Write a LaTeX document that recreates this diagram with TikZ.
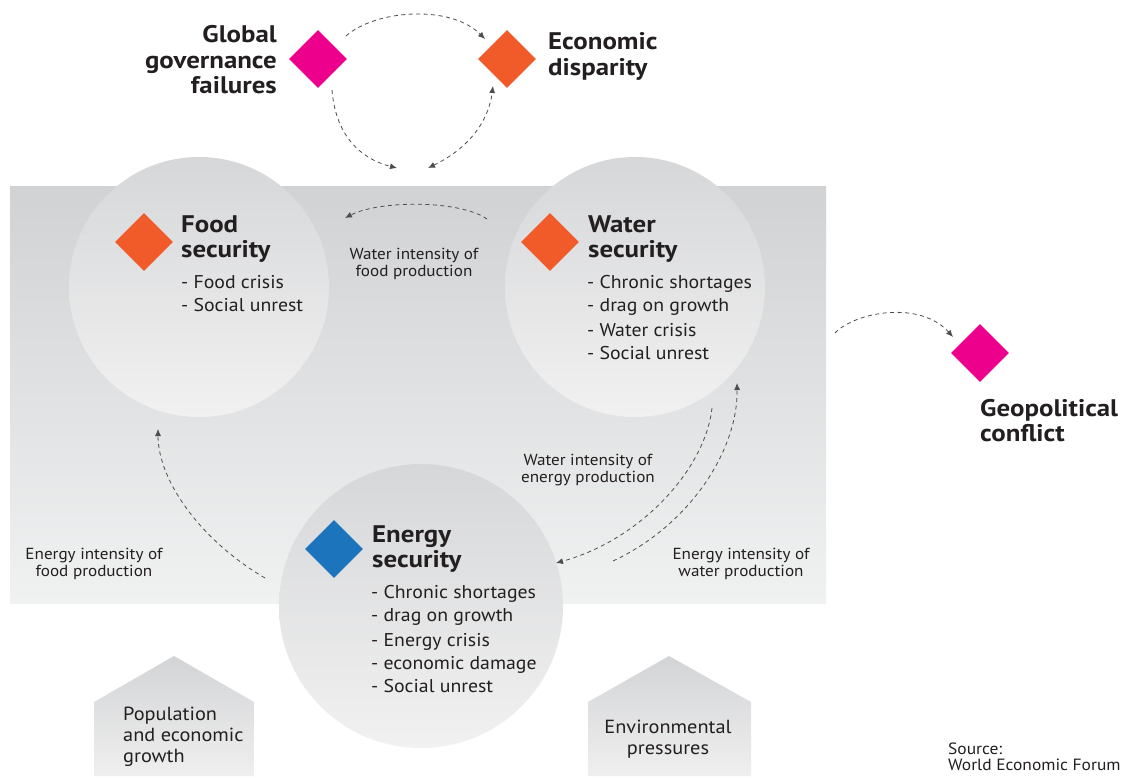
\documentclass[tikz,border=0pt]{standalone}
\usepackage{fontspec}
\setmainfont{PT Sans}[FakeStretch=1.07]
\newfontfamily\hdfam{PT Sans}[FakeStretch=1.12]
\usetikzlibrary{arrows.meta,shapes.geometric}
\definecolor{rectTop}{HTML}{D1D2D4}
\definecolor{rectBot}{HTML}{F0F1F1}
\definecolor{circTop}{HTML}{D6D7D9}
\definecolor{circBot}{HTML}{F1F1F1}
\definecolor{houseTop}{HTML}{D3D4D6}
\definecolor{houseBot}{HTML}{EFEFEF}
\definecolor{wefOrange}{HTML}{F15A29}
\definecolor{wefMagenta}{HTML}{EC008C}
\definecolor{wefBlue}{HTML}{1C75BC}
\definecolor{ink}{HTML}{231F20}
\definecolor{dashc}{HTML}{4D4D4D}
\newcommand{\stk}[2][l]{\begin{tabular}[t]{@{}#1@{}}#2\end{tabular}}
\tikzset{
  bub/.style={circle, inner sep=0pt, minimum size=#1, top color=circTop, bottom color=circBot, draw=none},
  dia/.style={diamond, inner sep=0pt, minimum size=58pt, fill=#1, draw=none},
  head/.style={inner sep=0pt, text=ink, font=\hdfam\fontsize{24}{25.5}\selectfont\bfseries},
  body/.style={inner sep=0pt, text=ink, font=\fontsize{18.5}{23}\selectfont},
  lab/.style={inner sep=0pt, text=ink, font=\fontsize{16}{17.5}\selectfont},
  house/.style={inner sep=0pt, text=ink, font=\fontsize{19}{21}\selectfont},
  conn/.style={draw=dashc, line width=0.8pt, dash pattern=on 4pt off 3.5pt,
    -{Latex[length=7pt,width=6pt]}},
  conn2/.style={conn, {Latex[length=7pt,width=6pt]}-{Latex[length=7pt,width=6pt]}},
}
\begin{document}
\begin{tikzpicture}[x=1pt,y=-1pt]
\useasboundingbox (0,0) rectangle (1121,776);
\fill[white] (0,0) rectangle (1121,776);
% background panel
\shade[top color=rectTop, bottom color=rectBot] (10,186) rectangle (826,603);
% bubbles
\node[bub=260pt] (foodc) at (199,287) {};
\node[bub=260pt] (waterc) at (635,287) {};
\node[bub=284pt] (energyc) at (421,606) {};
% houses
\shade[top color=houseTop, bottom color=houseBot] (94,776) -- (94,702) -- (174,656) -- (254,702) -- (254,776) -- cycle;
\shade[top color=houseTop, bottom color=houseBot] (588,776) -- (588,702) -- (669,656) -- (751,702) -- (751,776) -- cycle;
% diamonds
\node[dia=wefMagenta] (ggf) at (318,59) {};
\node[dia=wefOrange] (ecd) at (507,59) {};
\node[dia=wefOrange] (food) at (144,242) {};
\node[dia=wefOrange] (water) at (550,242) {};
\node[dia=wefBlue] (energy) at (334,549) {};
\node[dia=wefMagenta] (geo) at (980,353) {};
% titles
\node[head, anchor=base east] (ggft) at (277,43) {\stk[r]{Global\\governance\\failures}};
\node[head, anchor=base west] (ecdt) at (548,50) {\stk{Economic\\disparity}};
\node[head, anchor=base west] (foodt) at (181,232) {\stk{Food\\security}};
\node[head, anchor=base west] (watert) at (588,232) {\stk{Water\\security}};
\node[head, anchor=base west] (energyt) at (372,542) {\stk{Energy\\security}};
\node[head, anchor=base west] (geot) at (980,416) {\stk{Geopolitical\\conflict}};
% lists
\node[body, anchor=base west] (foodl) at (181,288) {\stk{- Food crisis\\- Social unrest}};
\node[body, anchor=base west] (waterl) at (587,288) {\stk{- Chronic shortages\\- drag on growth\\[2pt]- Water crisis\\- Social unrest}};
\node[body, anchor=base west] (energyl) at (371,598) {\stk{- Chronic shortages\\- drag on growth\\[2pt]- Energy crisis\\- economic damage\\- Social unrest}};
% connector labels
\node[lab, anchor=base] (l1) at (414,259) {\stk[c]{Water intensity of\\food production}};
\node[lab, anchor=base] (l2) at (588,465) {\stk[c]{Water intensity of\\energy production}};
\node[lab, anchor=base] (l3) at (94,559) {\stk[c]{Energy intensity of\\food production}};
\node[lab, anchor=base] (l4) at (741,559) {\stk[c]{Energy intensity of\\water production}};
% house texts
\node[house, anchor=base west] (pop) at (123,720) {\stk{Population\\and economic\\growth}};
\node[house, anchor=base] (env) at (668,733) {\stk[c]{Environmental\\pressures}};
\node[inner sep=0pt, text=ink, font=\fontsize{16.3}{16.3}\selectfont, anchor=base west] (src) at (948,754) {\stk{Source:\\World Economic Forum}};
% connector end points
\coordinate (a1s) at (346,36);
\coordinate (a1e) at (485,39);
\coordinate (a2s) at (332,90);
\coordinate (a2e) at (397,168);
\coordinate (a3s) at (493,86);
\coordinate (a3e) at (428,168);
\coordinate (a4s) at (487,219);
\coordinate (a4e) at (345,218);
\coordinate (a5s) at (265,578);
\coordinate (a5e) at (158,429);
\coordinate (a6s) at (712,408);
\coordinate (a6e) at (556,563);
\coordinate (a7s) at (613,561);
\coordinate (a7e) at (737,383);
\coordinate (a8s) at (835,333);
\coordinate (a8e) at (953,337);
% connectors
\draw[conn] (a1s) .. controls (375,10) and (450,4) .. (a1e);
\draw[conn] (a2s) .. controls (336,140) and (365,160) .. (a2e);
\draw[conn2] (a3e) .. controls (465,150) and (488,125) .. (a3s);
\draw[conn] (a4s) .. controls (460,200) and (380,200) .. (a4e);
\draw[conn] (a5s) .. controls (200,540) and (158,480) .. (a5e);
\draw[conn] (a6s) .. controls (705,470) and (640,540) .. (a6e);
\draw[conn] (a7s) .. controls (690,525) and (738,450) .. (a7e);
\draw[conn] (a8s) .. controls (855,312) and (920,300) .. (a8e);
\end{tikzpicture}
\end{document}
